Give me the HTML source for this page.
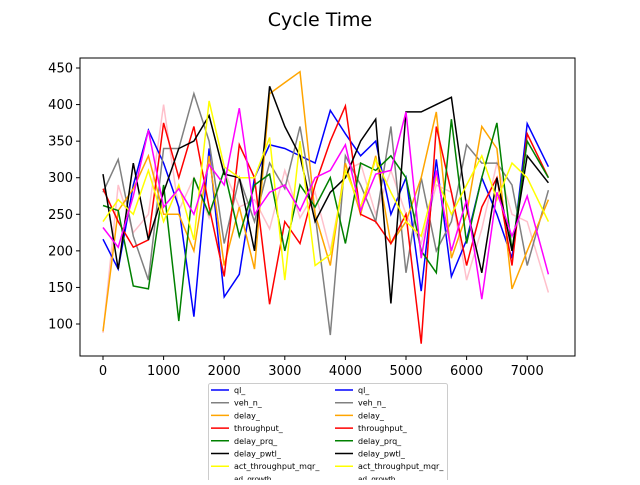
<!DOCTYPE html>
<html><head><meta charset="utf-8"><style>
body{margin:0;background:#fff;font-family:"Liberation Sans","DejaVu Sans",sans-serif}
</style></head><body>
<svg id="c" width="640" height="480" xmlns="http://www.w3.org/2000/svg">
<rect width="640" height="480" fill="#fff"/>
<text x="320" y="26" text-anchor="middle" font-size="19" font-family="DejaVu Sans, sans-serif">Cycle Time</text>
<g id="plot"></g>
<rect x="80" y="58" width="495" height="298" fill="none" stroke="#000" stroke-width="1"/>
<g id="axes" font-family="DejaVu Sans, sans-serif" font-size="13"></g>
<g id="legend"></g>
</svg>
<script>
const xs=[0,250,500,750,1000,1250,1500,1750,2000,2250,2500,2750,3000,3250,3500,3750,4000,4250,4500,4750,5000,5250,5500,5750,6000,6250,6500,6750,7000,7350];
const ql=[216,175,290,365,320,260,110,340,137,168,300,345,340,330,320,392,360,330,350,250,300,145,325,165,215,300,250,190,374,315];
const vehN=[280,325,220,160,340,340,415,350,210,300,240,320,285,370,250,85,330,290,240,370,170,300,200,240,345,320,320,290,180,283];
const delay=[90,255,285,330,250,250,200,330,180,260,175,415,430,445,250,180,320,250,330,210,240,300,390,190,250,370,340,148,200,270];
const throughput=[285,240,205,215,375,300,370,260,165,345,300,127,240,210,290,350,398,250,240,210,250,73,370,280,180,260,300,180,360,300];
const delayPrq=[262,255,152,148,290,104,300,250,310,220,290,305,200,290,260,300,210,320,310,330,300,200,170,380,210,300,375,200,350,300];
const delayPwtl=[305,175,320,215,280,340,350,385,305,300,200,425,370,330,240,280,300,350,380,128,390,390,400,410,260,170,300,200,330,293];
const actThr=[240,270,250,310,240,290,215,405,315,300,300,355,160,350,180,195,310,260,325,280,240,220,300,250,290,330,270,320,300,240];
const magenta=[232,205,275,365,260,285,250,318,290,395,250,280,290,255,300,310,345,255,305,310,390,190,310,200,270,134,280,220,275,168];
const pink=[88,290,225,250,400,255,300,245,310,260,270,230,310,245,280,200,310,320,250,310,250,210,290,280,160,230,320,250,240,143];
const seriesNames=["ql_","veh_n_","delay_","throughput_","delay_prq_","delay_pwtl_","act_throughput_mqr_","magenta_series","pink_series"];
const seriesData=[ql,vehN,delay,throughput,delayPrq,delayPwtl,actThr,magenta,pink];
const colors=["#0000ff","#808080","#ffa500","#ff0000","#008000","#000000","#ffff00","#ff00ff","#ffc0cb"];
const xTicks=[0,1000,2000,3000,4000,5000,6000,7000];
const yTicks=[100,150,200,250,300,350,400,450];
const legendLabels=["ql_","veh_n_","delay_","throughput_","delay_prq_","delay_pwtl_","act_throughput_mqr_"];
const NS="http://www.w3.org/2000/svg";
function X(v){return 103+v*0.0606;}
function Y(v){return 324-(v-100)*0.7314;}
const plot=document.getElementById('plot');
const order=[8,0,1,2,3,4,5,6,7];
order.forEach(si=>{
  const p=document.createElementNS(NS,'polyline');
  p.setAttribute('points',seriesData[si].map((v,i)=>X(xs[i]).toFixed(1)+','+Y(v).toFixed(1)).join(' '));
  p.setAttribute('fill','none');p.setAttribute('stroke',colors[si]);p.setAttribute('stroke-width','1.5');
  
  
  plot.appendChild(p);
});
const axes=document.getElementById('axes');
xTicks.forEach(t=>{
  const l=document.createElementNS(NS,'line');
  l.setAttribute('x1',X(t));l.setAttribute('x2',X(t));l.setAttribute('y1',356);l.setAttribute('y2',360);l.setAttribute('stroke','#000');
  
  
  axes.appendChild(l);
  const tx=document.createElementNS(NS,'text');
  tx.setAttribute('x',X(t));tx.setAttribute('y',375);tx.setAttribute('text-anchor','middle');tx.textContent=t;
  
  
  axes.appendChild(tx);
});
yTicks.forEach(t=>{
  const l=document.createElementNS(NS,'line');
  l.setAttribute('x1',76);l.setAttribute('x2',80);l.setAttribute('y1',Y(t));l.setAttribute('y2',Y(t));l.setAttribute('stroke','#000');
  
  
  axes.appendChild(l);
  const tx=document.createElementNS(NS,'text');
  tx.setAttribute('x',73);tx.setAttribute('y',Y(t)+4.5);tx.setAttribute('text-anchor','end');tx.textContent=t;
  
  
  axes.appendChild(tx);
});
const lg=document.getElementById('legend');
const box=document.createElementNS(NS,'rect');
box.setAttribute('x',208.5);box.setAttribute('y',383.5);box.setAttribute('width',239);box.setAttribute('height',110);box.setAttribute('rx',2);
box.setAttribute('fill','#fff');box.setAttribute('stroke','#ccc');


lg.appendChild(box);
[0,1].forEach(col=>{
  legendLabels.forEach((lab,i)=>{
    const y=390+i*12.7, x0=col?335:211;
    const l=document.createElementNS(NS,'line');
    l.setAttribute('x1',x0);l.setAttribute('x2',x0+18);l.setAttribute('y1',y);l.setAttribute('y2',y);
    l.setAttribute('stroke',colors[i]);l.setAttribute('stroke-width','1.5');
    
    
    lg.appendChild(l);
    const t=document.createElementNS(NS,'text');
    t.setAttribute('x',x0+23);t.setAttribute('y',y+3);t.setAttribute('font-size','8');t.setAttribute('font-family','DejaVu Sans, sans-serif');
    t.textContent=lab;
    
    
    lg.appendChild(t);
  });
  const t=document.createElementNS(NS,'text');
  t.setAttribute('x',(col?335:211)+23);t.setAttribute('y',390+7*12.7+3);t.setAttribute('font-size','8');t.textContent='ad_growth_';
  
  
  lg.appendChild(t);
});
</script>
</body></html>
